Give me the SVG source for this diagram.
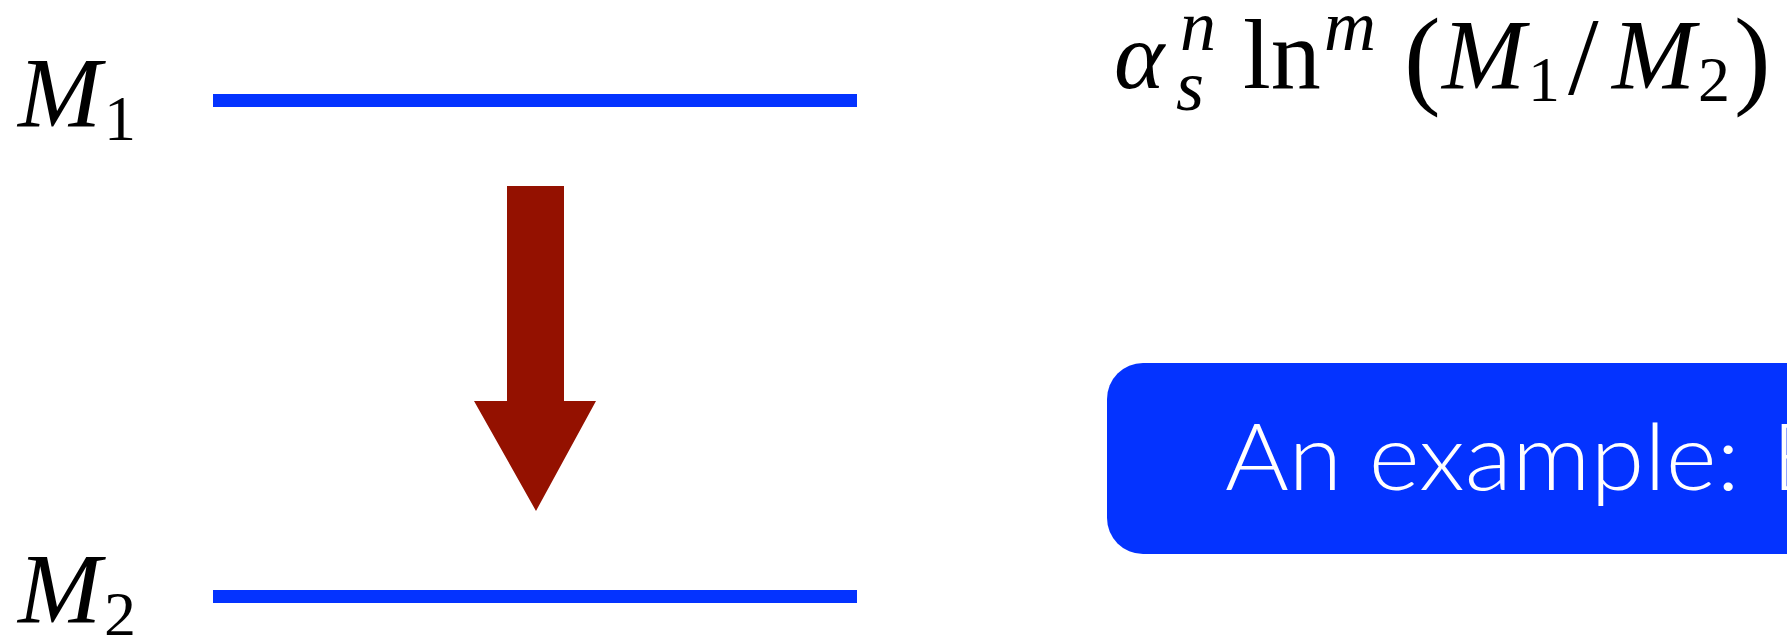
<svg xmlns="http://www.w3.org/2000/svg" width="1787" height="635" viewBox="0 0 1787 635">
<style>
.lvl{fill:#0433FF}
.mi{font-family:"Liberation Serif",serif;font-style:italic;fill:#000}
.mr{font-family:"Liberation Serif",serif;fill:#000}
.box{fill:#0433FF}
.boxt{font-family:Lato,"Open Sans",sans-serif;font-weight:300;fill:#fff;font-size:93px}
.arr{fill:#941100}
</style>
<rect width="1787" height="635" fill="#fff"/>
<g id="node-M1">
<rect class="lvl" x="213" y="94" width="644" height="13"/>
<text class="mi" x="18" y="126" font-size="100">M</text>
<text class="mr" x="104" y="140" font-size="64">1</text>
</g>
<g id="node-M2">
<rect class="lvl" x="213" y="590" width="644" height="13"/>
<text class="mi" x="18" y="622" font-size="100">M</text>
<text class="mr" x="104" y="636" font-size="64">2</text>
</g>
<g id="connectors">
<polygon class="arr" points="507,186 564,186 564,401 596,401 536,511 474,401 507,401"/>
</g>
<g id="node-formula">
<text class="mi" x="1114" y="88" font-size="96">α</text>
<text class="mi" x="1176" y="110" font-size="72">s</text>
<text class="mi" x="1180" y="50" font-size="72">n</text>
<text class="mr" x="1243" y="88" font-size="100">ln</text>
<text class="mi" x="1324" y="50" font-size="72">m</text>
<text class="mr" x="1404" y="94" font-size="110">(</text>
<text class="mi" x="1442" y="88" font-size="100">M</text>
<text class="mr" x="1528" y="101" font-size="64">1</text>
<text class="mr" x="1568" y="94" font-size="110">/</text>
<text class="mi" x="1612" y="88" font-size="100">M</text>
<text class="mr" x="1698" y="101" font-size="64">2</text>
<text class="mr" x="1734" y="94" font-size="110">)</text>
</g>
<g id="node-example">
<rect class="box" x="1107" y="363" width="760" height="191" rx="36" ry="36"/>
<text class="boxt" x="1225" y="490" textLength="515" lengthAdjust="spacingAndGlyphs">An example:</text>
<text class="boxt" x="1772" y="490">B</text>
</g>
</svg>
